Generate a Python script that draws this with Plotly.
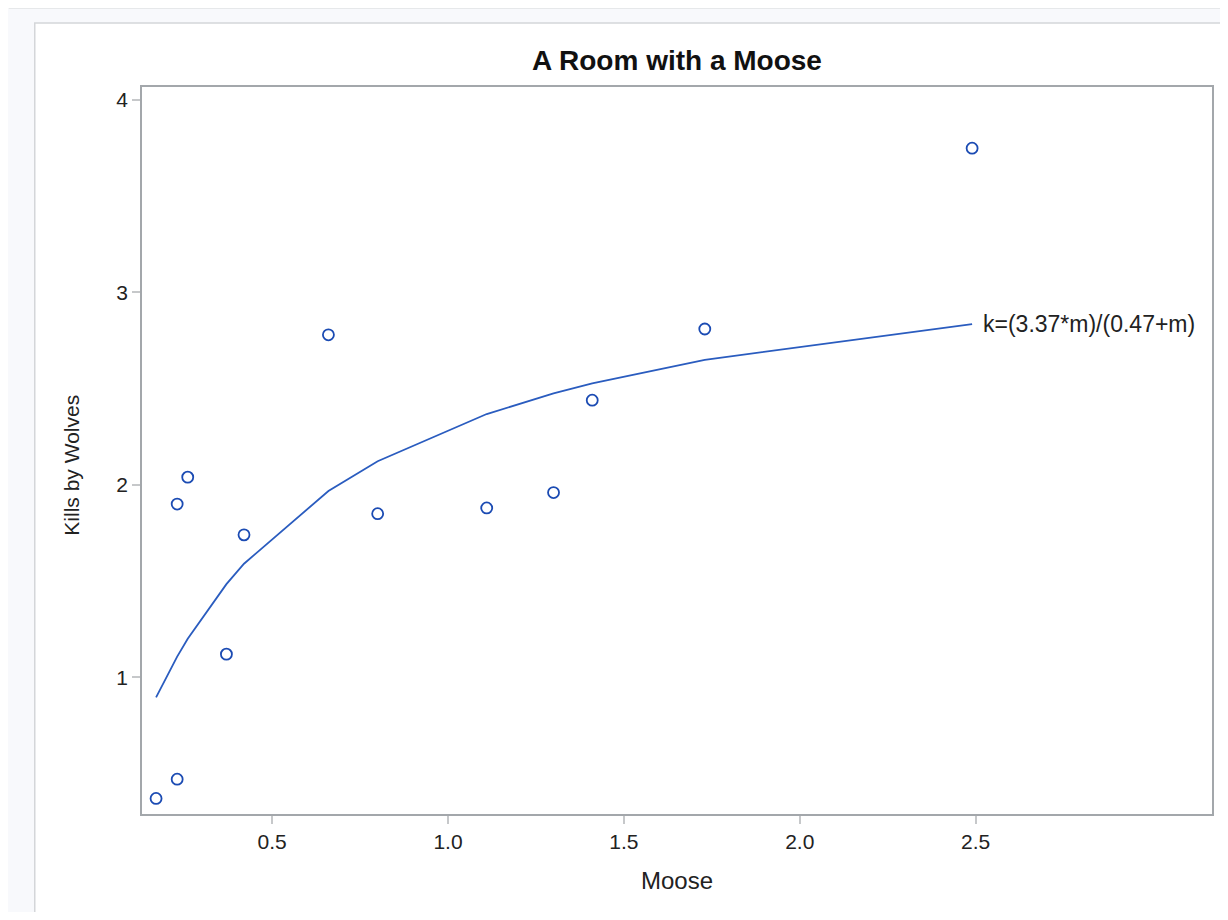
import plotly.graph_objects as go

# Data
moose = [0.17, 0.23, 0.23, 0.26, 0.37, 0.42, 0.66, 0.80, 1.11, 1.30, 1.41, 1.73, 2.49]
kills = [0.37, 0.47, 1.90, 2.04, 1.12, 1.74, 2.78, 1.85, 1.88, 1.96, 2.44, 2.81, 3.75]
fit_x = [0.17, 0.23, 0.26, 0.37, 0.42, 0.66, 0.80, 1.11, 1.30, 1.41, 1.73, 2.49]
fit_y = [0.895, 1.107, 1.200, 1.484, 1.590, 1.968, 2.123, 2.368, 2.475, 2.528, 2.650, 2.835]
fit_label = "k=(3.37*m)/(0.47+m)"
x_ticks = [0.5, 1.0, 1.5, 2.0, 2.5]
y_ticks = [1, 2, 3, 4]

FONT = "Liberation Sans, Arial, sans-serif"
W, H = 1212, 904
L, R, T, B = 133.5, 6, 79, 98
PW, PH = W - L - R, H - T - B

def px_x(fx):
    return (fx - L) / PW

def px_y(fy):
    return (H - B - fy) / PH

fig = go.Figure()
fig.add_trace(go.Scatter(
    x=moose, y=kills, mode="markers",
    marker=dict(symbol="circle-open", size=11, color="#1b4bb3",
                line=dict(width=1.8, color="#1b4bb3")),
    showlegend=False, hoverinfo="x+y"))
fig.add_trace(go.Scatter(
    x=fit_x, y=fit_y, mode="lines",
    line=dict(color="#2a5cbf", width=1.8),
    showlegend=False))

fig.add_annotation(x=fit_x[-1], y=fit_y[-1], text=fit_label, showarrow=False,
                   xanchor="left", yanchor="middle", xshift=9,
                   font=dict(family=FONT, size=23, color="#222"))

# y axis title placed as in the reference
fig.add_annotation(x=px_x(62), y=px_y(457), xref="paper", yref="paper",
                   text="Kills by Wolves", showarrow=False, textangle=-90,
                   xanchor="center", yanchor="middle",
                   font=dict(family=FONT, size=21, color="#222"))

# page frame
fig.add_shape(type="rect", xref="paper", yref="paper", layer="below",
              x0=px_x(26), x1=px_x(W + 20), y0=px_y(H + 20), y1=px_y(15),
              fillcolor="white", line=dict(color="#d4d6d9", width=1.5))
fig.add_shape(type="line", xref="paper", yref="paper", layer="below",
              x0=px_x(0), x1=px_x(W + 20), y0=px_y(0.5), y1=px_y(0.5),
              line=dict(color="#e6e8ea", width=1))

fig.update_layout(
    width=W, height=H,
    margin=dict(l=L, r=R, t=T, b=B),
    paper_bgcolor="#f8f9fc", plot_bgcolor="white",
    font=dict(family=FONT, size=21, color="#222"),
    title=dict(text="<b>A Room with a Moose</b>", x=0.5, xref="paper",
               y=1 - 52 / H, yref="container", yanchor="middle", xanchor="center",
               font=dict(family=FONT, size=28, color="#111")),
    xaxis=dict(range=[0.130, 3.172], tickvals=x_ticks, tickformat=".1f",
               showgrid=False, zeroline=False, showline=True, mirror=True,
               linecolor="#a3a7ab", linewidth=1.5, ticks="outside", ticklen=8,
               tickcolor="#c6c8ca", tickwidth=1.5,
               tickfont=dict(size=21, color="#222"),
               title=dict(text="Moose", font=dict(size=24, color="#222"), standoff=20)),
    yaxis=dict(range=[0.289, 4.068], tickvals=y_ticks,
               showgrid=False, zeroline=False, showline=True, mirror=True,
               linecolor="#a3a7ab", linewidth=1.5, ticks="outside", ticklen=8,
               tickcolor="#c6c8ca", tickwidth=1.5,
               tickfont=dict(size=21, color="#222")),
)

fig.write_html("out.html")
